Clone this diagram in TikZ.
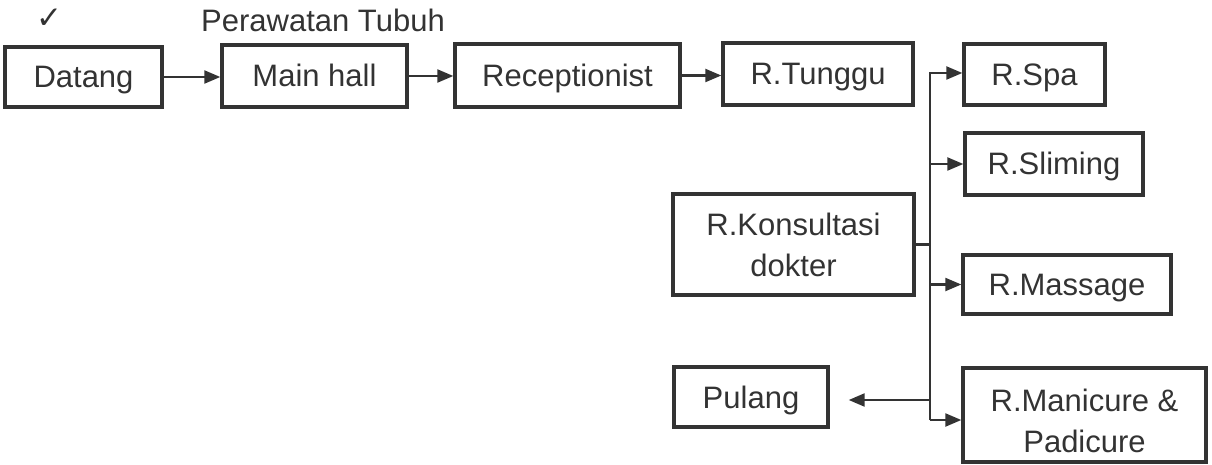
\documentclass[tikz,border=0pt]{standalone}
\usepackage{fontspec}
\setmainfont{Liberation Sans}
\newfontfamily\symfont{DejaVu Sans}
\usetikzlibrary{arrows.meta}
\definecolor{ink}{HTML}{333333}
\begin{document}
\begin{tikzpicture}[x=1pt,y=-1pt,
  roombox/.style={draw=ink, line width=3.4pt, inner sep=0pt, align=center,
    text=ink, font=\fontsize{31}{41}\selectfont},
  oneline/.style={text height=22pt, text depth=0pt},
  conn/.style={draw=ink, line width=2.3pt},
  arr/.style={conn, -{Triangle[length=16pt,width=13pt]}},
  label/.style={inner sep=0pt, text=ink}]
\useasboundingbox (0,0) rectangle (1212,465);

% heading
\node[label, font=\symfont\fontsize{31}{31}\selectfont] (tick) at (49,19) {✓};
\node[label, font=\fontsize{31}{36}\selectfont, anchor=base west] (title) at (201,32) {Perawatan Tubuh};

% main flow
\node[roombox, oneline, minimum width=157pt, minimum height=60pt] (datang) at (83.5,77) {Datang};
\node[roombox, oneline, minimum width=185pt, minimum height=62pt] (hall) at (314.5,76) {Main hall};
\node[roombox, oneline, minimum width=225pt, minimum height=63pt] (recep) at (567.5,75.5) {Receptionist};
\node[roombox, oneline, minimum width=190pt, minimum height=62pt] (tunggu) at (818,74) {R.Tunggu};

% treatment rooms
\node[roombox, oneline, minimum width=141pt, minimum height=61pt] (spa) at (1034.5,74.5) {R.Spa};
\node[roombox, oneline, minimum width=178pt, minimum height=62pt] (sliming) at (1054,164) {R.Sliming};
\node[roombox, minimum width=241pt, minimum height=101pt] (konsul) at (793.5,244.5) {R.Konsultasi\\dokter};
\node[roombox, oneline, minimum width=208pt, minimum height=59pt] (massage) at (1067,284.5) {R.Massage};
\node[roombox, oneline, minimum width=154pt, minimum height=60pt] (pulang) at (751,397) {Pulang};
\node[roombox, text height=74pt, text depth=0pt, minimum width=243pt, minimum height=94pt] (mani) at (1084.5,415) {R.Manicure \&\\Padicure};

% arrows along the main flow
\draw[arr] (datang.east) -- (datang.east -| hall.west);
\draw[arr] (hall.east) -- (hall.east -| recep.west);
\draw[arr] (recep.east) -- (recep.east -| tunggu.west);

% distribution bus
\coordinate (jx) at (930,0);
\coordinate (jtop) at (930,73);
\coordinate (jbot) at (930,420);
\draw[arr, line join=miter] (jbot) -- (jtop) -- (jtop -| spa.west);
\draw[arr] (jx |- sliming.west) -- (sliming.west);
\draw[arr] (jx |- massage.west) -- (massage.west);
\draw[arr] (jbot) -- (jbot -| mani.west);
\draw[conn] (konsul.east) -- (jx |- konsul.east);
\coordinate (pl) at (930,400);
\draw[arr] (pl) -- ([xshift=19pt]pl -| pulang.east);
\end{tikzpicture}
\end{document}
